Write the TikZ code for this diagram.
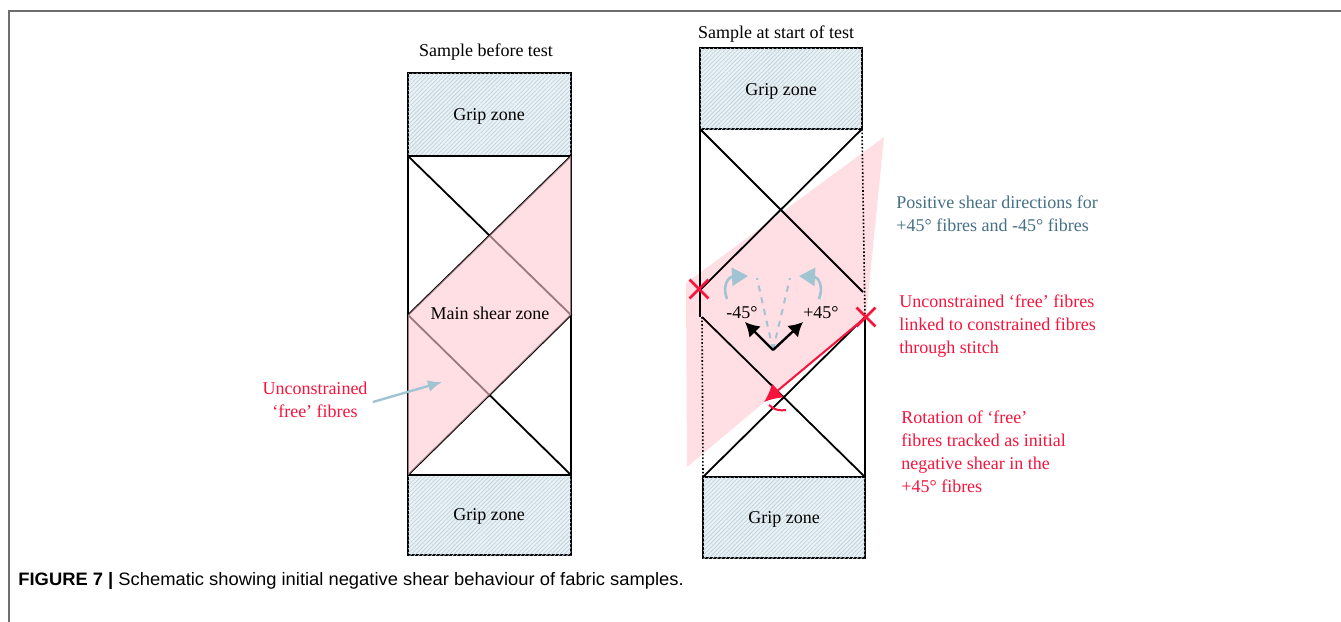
\documentclass[tikz,border=0pt]{standalone}
\usepackage{fontspec}
\setmainfont{Liberation Serif}
\newfontfamily\capfont[FakeStretch=1.02]{Liberation Sans}
\usetikzlibrary{arrows.meta,patterns.meta,shapes.misc}

\definecolor{shearpink}{RGB}{255,200,210}
\definecolor{lightpink}{RGB}{255,222,228}
\definecolor{gripblue}{RGB}{234,241,245}
\definecolor{hatchblue}{RGB}{185,207,218}
\definecolor{freered}{RGB}{245,20,60}
\definecolor{posblue}{RGB}{70,112,132}
\definecolor{dirblue}{RGB}{160,196,210}
\definecolor{framegray}{RGB}{110,110,110}

\tikzset{
  gripbox/.style={draw=black, line width=0.9pt, fill=gripblue,
    postaction={pattern={Lines[angle=45,distance=1.5pt,line width=0.3pt]}, pattern color=hatchblue}},
  fibre/.style={line width=0.9pt},
  loose/.style={line width=0.8pt, densely dotted},
  lbl/.style={font=\fontsize{9}{11.5}\selectfont, inner sep=0pt},
  redlbl/.style={lbl, text=freered, align=left, anchor=west},
  stitch/.style={cross out, draw=freered, line width=1.4pt, minimum size=8pt, inner sep=0pt},
}

\begin{document}
\begin{tikzpicture}[x=0.5pt, y=-0.5pt, >={Latex}]
\useasboundingbox (0,0) rectangle (1341,622);
\draw[framegray, line width=0.7pt] (9,622) -- (9,11) -- (1341,11);

% sample before test
\node[lbl] (title1) at (486,52) {Sample before test};
\draw[gripbox] (408,73) rectangle (571,156);
\draw[gripbox] (408,475) rectangle (571,555);
\draw[fibre] (408,156) rectangle (571,475);
\draw[fibre] (408,156) -- (571,315) -- (408,475);
\draw[fibre] (571,156) -- (408,315) -- (571,475);
\fill[shearpink, fill opacity=0.6] (571,156) -- (571,315) -- (408,475) -- (408,315) -- cycle;
\node[lbl] (grip1) at (489,116) {Grip zone};
\node[lbl] (grip2) at (489,516) {Grip zone};
\node[lbl] (main) at (490,313) {Main shear zone};
\node[lbl, text=freered, align=center] (free1) at (315,400) {Unconstrained\\‘free’ fibres};
\coordinate (free1tip) at (442,382);
\draw[dirblue, line width=1.2pt, -{Latex[length=7pt,width=6pt]}] (free1.east) ++(5,2) -- (free1tip);

% sample at start of test
\node[lbl] (title2) at (776,34) {Sample at start of test};
\fill[lightpink] (884,137) -- (866,317) -- (687,467) -- (686,283) -- cycle;
\draw[gripbox] (700,48) rectangle (862,129);
\draw[gripbox] (703,477) rectangle (865,558);
\draw[fibre] (700,129) -- (700,317);
\draw[loose] (702,317) -- (703,477);
\draw[loose] (862,129) -- (865,317);
\draw[fibre] (865,317) -- (865,477);
\draw[fibre] (700,129) -- (863,292);
\draw[fibre] (862,129) -- (700,290);
\draw[fibre] (702,317) -- (865,477);
\draw[fibre] (703,477) -- (865,317);
\node[lbl] (grip3) at (781,91) {Grip zone};
\node[lbl] (grip4) at (784,519) {Grip zone};

% shear directions
\coordinate (o) at (773,350);
\draw[dirblue, line width=1pt, dashed] (o) -- (757,278);
\draw[dirblue, line width=1pt, dashed] (o) -- (790,278);
\draw[dirblue, line width=1.3pt, -{Triangle[length=8pt,width=9pt]}] (727,299) .. controls (722,286) and (728,277) .. (748,276);
\draw[dirblue, line width=1.3pt, -{Triangle[length=8pt,width=9pt]}] (819,299) .. controls (824,286) and (818,277) .. (799,276);
\draw[line width=1.2pt, -{Latex[length=7pt,width=8pt]}] (o) -- (745,322);
\draw[line width=1.2pt, -{Latex[length=7pt,width=8pt]}] (o) -- (803,322);
\node[lbl] (neg) at (742,313) {-45°};
\node[lbl] (pos) at (821,313) {+45°};

% stitch points
\node[stitch] (xl) at (699,289) {};
\node[stitch] (xr) at (866,317) {};
\draw[freered, line width=1pt, -{Latex[length=9pt,width=9pt]}] (xr.center) -- (764,402);
\draw[freered, line width=1pt] (769,405) .. controls (774,410) and (780,411) .. (786,410);

% notes
\node[lbl, text=posblue, align=left, anchor=west] (posnote) at (896,214) {Positive shear directions for\\+45° fibres and -45° fibres};
\node[redlbl] (linknote) at (899,326) {Unconstrained ‘free’ fibres\\linked to constrained fibres\\through stitch};
\node[redlbl] (rotnote) at (901,452) {Rotation of ‘free’\\fibres tracked as initial\\negative shear in the\\+45° fibres};

\node[anchor=west, inner sep=0pt, font=\capfont\fontsize{9}{11}\selectfont] (cap) at (18,581) {\textbf{FIGURE 7 |} Schematic showing initial negative shear behaviour of fabric samples.};
\end{tikzpicture}
\end{document}
